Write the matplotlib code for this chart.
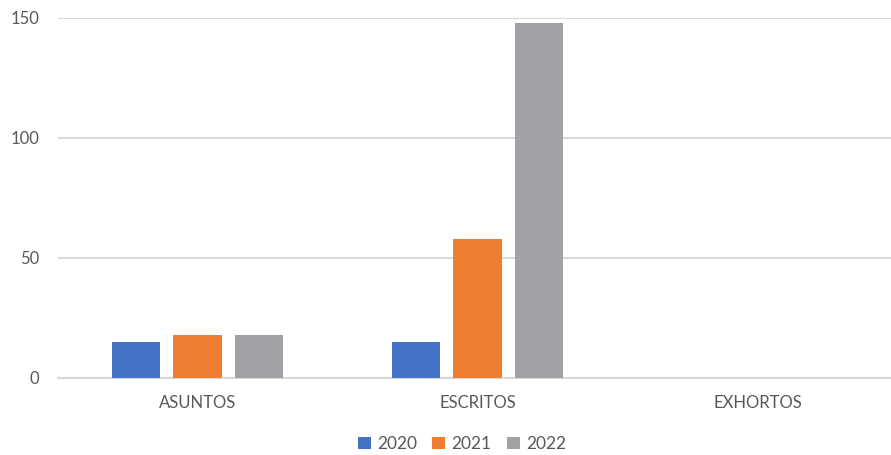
import matplotlib.pyplot as plt
import numpy as np

plt.rcParams['font.family'] = ['Lato', 'DejaVu Sans']

categories = ['ASUNTOS', 'ESCRITOS', 'EXHORTOS']
years = ['2020', '2021', '2022']
v2020 = [15, 15, 0]
v2021 = [18, 58, 0]
v2022 = [18, 148, 0]

C_TEXT = '#595959'
C_GRID = '#d9d9d9'
colors = ['#4472c4', '#ed7d31', '#a0a2a5']

fig = plt.figure(figsize=(8.91, 4.55), dpi=100, facecolor='white')
ax = fig.add_axes([57.5 / 891, 77 / 455, 840 / 891, 360 / 455])

x = np.arange(len(categories))
width = 0.172
step = 0.221
for i, (vals, label) in enumerate(zip([v2020, v2021, v2022], years)):
    ax.bar(x + (i - 1) * step, vals, width=width, color=colors[i], label=label, zorder=3)

ax.set_xlim(-0.5, 2.5)
ax.set_ylim(0, 150)
ax.set_yticks([0, 50, 100, 150])
ax.set_xticks(x)
ax.set_xticklabels(categories)

ax.grid(axis='y', color=C_GRID, linewidth=1.5, zorder=0)
for s in ['top', 'right', 'left']:
    ax.spines[s].set_visible(False)
ax.spines['bottom'].set_color(C_GRID)
ax.spines['bottom'].set_linewidth(1.5)
ax.tick_params(axis='y', length=0, pad=13, labelsize=12, labelcolor=C_TEXT)
ax.tick_params(axis='x', length=0, pad=12, labelsize=12, labelcolor=C_TEXT)

fig.legend(loc='center', bbox_to_anchor=(462 / 891, 1 - 444 / 455), ncol=3,
           frameon=False, fontsize=12.5, labelcolor=C_TEXT,
           handlelength=0.75, handleheight=0.75, handletextpad=0.35,
           columnspacing=0.9)

fig.savefig('out.png', dpi=100)
